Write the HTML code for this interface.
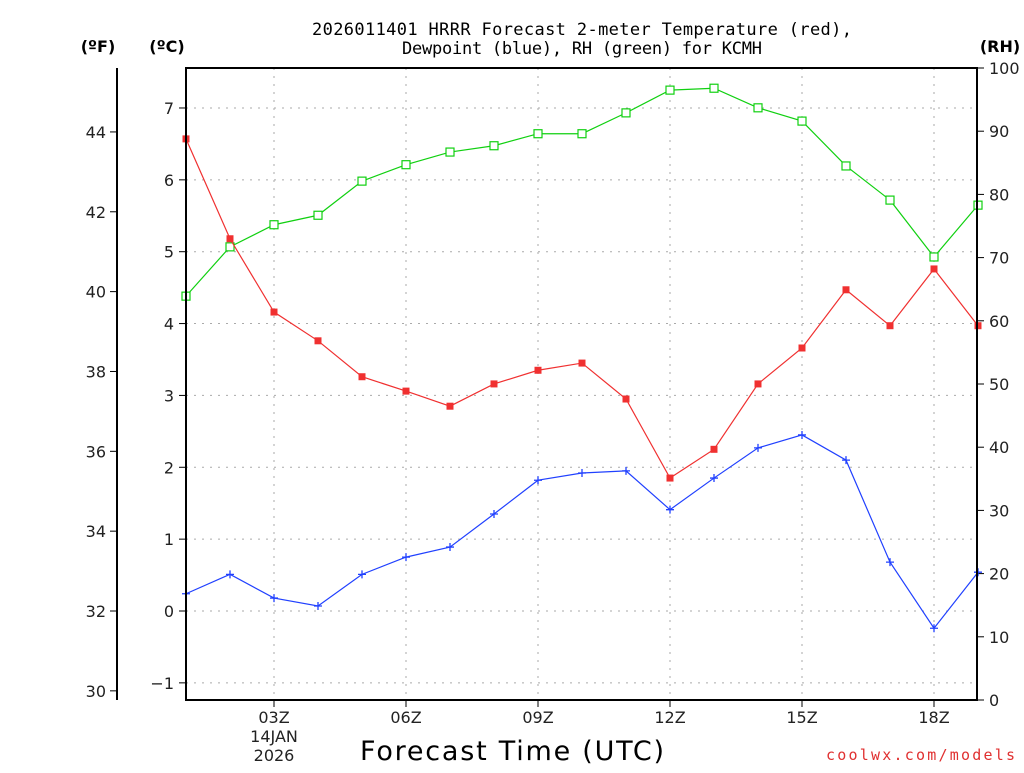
<!DOCTYPE html>
<html><head><meta charset="utf-8"><style>
body{margin:0;background:#fff;width:1024px;height:768px;overflow:hidden}
svg text{font-family:"DejaVu Sans","Liberation Sans",sans-serif}
</style></head><body>
<svg id="c" width="1024" height="768" xmlns="http://www.w3.org/2000/svg">
<text x="582" y="35" text-anchor="middle" font-size="17" textLength="540" style="font-family:'DejaVu Sans Mono','Liberation Mono',monospace">2026011401 HRRR Forecast 2-meter Temperature (red),</text>
<text x="582" y="54" text-anchor="middle" font-size="17" textLength="360" style="font-family:'DejaVu Sans Mono','Liberation Mono',monospace">Dewpoint (blue), RH (green) for KCMH</text>
<text x="98" y="52" text-anchor="middle" font-size="16" font-weight="bold">(ºF)</text>
<text x="167" y="52" text-anchor="middle" font-size="16" font-weight="bold">(ºC)</text>
<text x="1000" y="52" text-anchor="middle" font-size="16" font-weight="bold">(RH)</text>
<text x="512" y="760" text-anchor="middle" font-size="27" textLength="304">Forecast Time (UTC)</text>
<text x="1015" y="760" text-anchor="end" font-size="15" textLength="189" fill="#e03030" style="font-family:'DejaVu Sans Mono','Liberation Mono',monospace">coolwx.com/models</text>
<g id="grid"></g><g id="axes"></g><g id="series"></g>
<rect x="186" y="68" width="791" height="632" fill="none" stroke="#000" stroke-width="2"/>
</svg>
<script>
const hours=[1,2,3,4,5,6,7,8,9,10,11,12,13,14,15,16,17,18,19];
const tempC=[6.57,5.18,4.16,3.76,3.26,3.06,2.85,3.16,3.35,3.45,2.95,1.85,2.25,3.16,3.66,4.47,3.97,4.76,3.97];
const dewC=[0.24,0.51,0.18,0.07,0.51,0.75,0.89,1.35,1.82,1.92,1.95,1.41,1.85,2.27,2.45,2.10,0.68,-0.24,0.54];
const rh=[63.9,71.7,75.2,76.7,82.1,84.7,86.7,87.7,89.6,89.6,92.9,96.5,96.8,93.7,91.6,84.5,79.1,70.1,78.3];
const cTicks=[-1,0,1,2,3,4,5,6,7];
const fTicks=[30,32,34,36,38,40,42,44];
const rhTicks=[0,10,20,30,40,50,60,70,80,90,100];
const xTicks=[3,6,9,12,15,18];
const xLabels=["03Z","06Z","09Z","12Z","15Z","18Z"];
const X=h=>186+(h-1)*44;
const YC=c=>611-c*71.86;
const YF=f=>YC((f-32)*5/9);
const YR=r=>700-r*6.32;
const NS="http://www.w3.org/2000/svg";
function mk(p,t,a){const e=document.createElementNS(NS,t);for(const k in a)e.setAttribute(k,a[k]);document.getElementById(p).appendChild(e);return e;}
cTicks.forEach(c=>{const y=YC(c);
 const g=mk('grid','line',{x1:186,x2:977,y1:y,y2:y,stroke:'#aaa','stroke-dasharray':'2,6'});
 
 const t=mk('axes','line',{x1:179,x2:186,y1:y,y2:y,stroke:'#000'});
 const l=mk('axes','text',{x:174,y:y+6,'text-anchor':'end','font-size':16,fill:'#222'});l.textContent=c<0?'\u22121':c;});
const fa=mk('axes','line',{x1:117,x2:117,y1:68,y2:700,stroke:'#000','stroke-width':2});
fTicks.forEach(f=>{const y=YF(f);
 const t=mk('axes','line',{x1:110,x2:117,y1:y,y2:y,stroke:'#000'});
 const l=mk('axes','text',{x:106,y:y+6,'text-anchor':'end','font-size':16,fill:'#222'});l.textContent=f;});
rhTicks.forEach(r=>{const y=YR(r);
 const t=mk('axes','line',{x1:977,x2:984,y1:y,y2:y,stroke:'#000'});
 const l=mk('axes','text',{x:989,y:y+6,'font-size':16,fill:'#222'});l.textContent=r;});
xTicks.forEach((h,i)=>{const x=X(h);
 const g=mk('grid','line',{x1:x,x2:x,y1:68,y2:700,stroke:'#aaa','stroke-dasharray':'2,6'});
 const t=mk('axes','line',{x1:x,x2:x,y1:700,y2:707,stroke:'#000'});
 const l=mk('axes','text',{x:x,y:723,'text-anchor':'middle','font-size':16,fill:'#222'});l.textContent=xLabels[i];});
const d1=mk('axes','text',{x:274,y:742,'text-anchor':'middle','font-size':16,fill:'#222'});d1.textContent='14JAN';
const d2=mk('axes','text',{x:274,y:761,'text-anchor':'middle','font-size':16,fill:'#222'});d2.textContent='2026';
function series(vals,yf,col,name,marker){
 const pts=vals.map((v,i)=>X(hours[i])+','+yf(v)).join(' ');
 const pl=mk('series','polyline',{points:pts,fill:'none',stroke:col,'stroke-width':1.2});
 vals.forEach((v,i)=>{const x=X(hours[i]),y=yf(v);let m;
  if(marker==='fill')m=mk('series','rect',{x:x-3.5,y:y-3.5,width:7,height:7,fill:col});
  else if(marker==='open')m=mk('series','rect',{x:x-4,y:y-4,width:8,height:8,fill:'#fff',stroke:col,'stroke-width':1.2});
  else m=mk('series','path',{d:`M${x-4},${y}H${x+4}M${x},${y-4}V${y+4}`,stroke:col,'stroke-width':1.3});
  });
}
series(rh,YR,'#10d010','rh','open');
series(tempC,YC,'#f03030','temperature','fill');
series(dewC,YC,'#2040ff','dewpoint','plus');
</script>
</body></html>
